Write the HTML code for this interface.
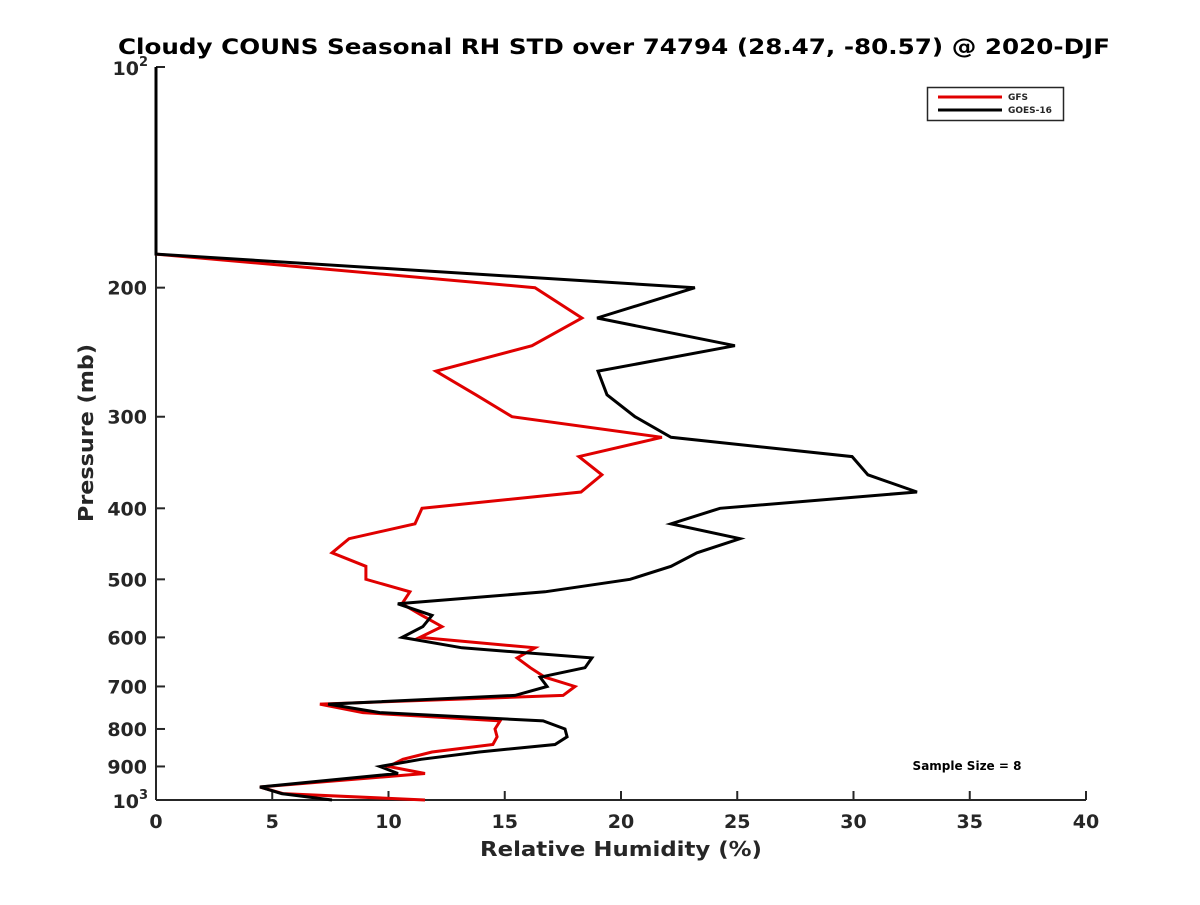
<!DOCTYPE html>
<html><head><meta charset="utf-8"><style>
html,body{margin:0;padding:0;background:#fff;}
svg text{font-family:"DejaVu Sans","Liberation Sans",sans-serif;font-weight:bold;fill:#262626;}
</style></head><body>
<svg id="chart" width="1200" height="900" viewBox="0 0 1200 900" xmlns="http://www.w3.org/2000/svg">
<rect width="1200" height="900" fill="#fff"/>
<text x="614" y="54" text-anchor="middle" font-size="21" style="fill:#000" textLength="992" lengthAdjust="spacingAndGlyphs">Cloudy COUNS Seasonal RH STD over 74794 (28.47, -80.57) @ 2020-DJF</text>
<g id="axes"></g>
<g id="series"></g>
<text x="621" y="856" text-anchor="middle" font-size="20" textLength="282" lengthAdjust="spacingAndGlyphs">Relative Humidity (%)</text>
<text transform="translate(93,433) rotate(-90)" text-anchor="middle" font-size="20" textLength="178" lengthAdjust="spacingAndGlyphs">Pressure (mb)</text>
<g>
<rect x="927.5" y="87.5" width="136" height="33" fill="#fff" stroke="#262626" stroke-width="1.5"/>
<line x1="938" y1="97" x2="1002" y2="97" stroke="#e00000" stroke-width="3"/>
<text x="1008" y="100" font-size="9">GFS</text>
<line x1="938" y1="110" x2="1002" y2="110" stroke="#000" stroke-width="3"/>
<text x="1008" y="113" font-size="9">GOES-16</text>
</g>
<text x="967" y="770" text-anchor="middle" font-size="12" style="fill:#000">Sample Size = 8</text>
</svg>
<script>
const pressures = [100,180,200,220,240,260,280,300,320,340,360,380,400,420,440,460,480,500,520,540,560,580,600,620,640,660,680,700,720,740,760,780,800,820,840,860,880,900,920,960,980,1000];
const goesValues = [0,0,23.18,18.97,24.90,19.01,19.40,20.60,22.15,29.94,30.62,32.73,24.26,22.15,25.12,23.27,22.15,20.39,16.73,10.4,11.87,11.48,10.58,13.16,18.75,18.45,16.52,16.82,15.44,7.40,9.63,16.65,17.59,17.68,17.16,13.9,11.4,9.63,10.41,4.47,5.4,7.57];
const gfsValues = [0,0,16.30,18.32,16.17,12.04,13.76,15.31,21.76,18.19,19.18,18.28,11.44,11.14,8.30,7.57,9.03,9.03,10.92,10.58,11.44,12.30,11.35,16.30,15.53,16.1,16.73,18.02,17.51,7.05,8.90,14.80,14.58,14.67,14.49,11.87,10.62,10.0,11.57,4.47,5.46,11.57];
const xTicks = [0,5,10,15,20,25,30,35,40];
const yTicks = [200,300,400,500,600,700,800,900];

const NS='http://www.w3.org/2000/svg';
const X0=156,X1=1086,Y0=67,Y1=800;
const xs=v=>X0+(v-0)/(40-0)*(X1-X0);
const ys=p=>Y0+(Math.log10(p)-2)*(Y1-Y0);
function mk(tag,attrs,parent){const e=document.createElementNS(NS,tag);for(const k in attrs)e.setAttribute(k,attrs[k]);parent.appendChild(e);return e;}
const axes=document.getElementById('axes');
const line1=mk('line',{x1:X0,y1:Y0,x2:X0,y2:Y1,stroke:'#262626','stroke-width':2},axes);


const line2=mk('line',{x1:X0,y1:Y1,x2:X1,y2:Y1,stroke:'#262626','stroke-width':2},axes);


xTicks.forEach(v=>{
  const t=mk('line',{x1:xs(v),y1:Y1,x2:xs(v),y2:Y1-9,stroke:'#262626','stroke-width':2},axes);
  
  
  const l=mk('text',{x:xs(v),y:Y1+28,'text-anchor':'middle','font-size':19},axes);
  
  
  l.textContent=v;
});
[100,1000].concat(yTicks).forEach(p=>{
  const t=mk('line',{x1:X0,y1:ys(p),x2:X0+9,y2:ys(p),stroke:'#262626','stroke-width':2},axes);
  
  
});
yTicks.forEach(p=>{
  const l=mk('text',{x:X0-9,y:ys(p)+7,'text-anchor':'end','font-size':19},axes);
  
  
  l.textContent=p;
});
[[100,'2'],[1000,'3']].forEach(([p,e])=>{
  const l=mk('text',{x:X0-8,y:ys(p)+8,'text-anchor':'end','font-size':19},axes);
  
  
  l.innerHTML='10<tspan dy="-9" font-size="13">'+e+'</tspan>';
});
const series=document.getElementById('series');
function drawLine(vals,color,name){
  const pts=vals.map((v,i)=>xs(v).toFixed(1)+','+ys(pressures[i]).toFixed(1)).join(' ');
  const pl=mk('polyline',{points:pts,fill:'none',stroke:color,'stroke-width':3,'stroke-linejoin':'miter'},series);
  
  
}
drawLine(gfsValues,'#e00000','gfs-line');
drawLine(goesValues,'#000','goes16-line');
</script>
</body></html>
